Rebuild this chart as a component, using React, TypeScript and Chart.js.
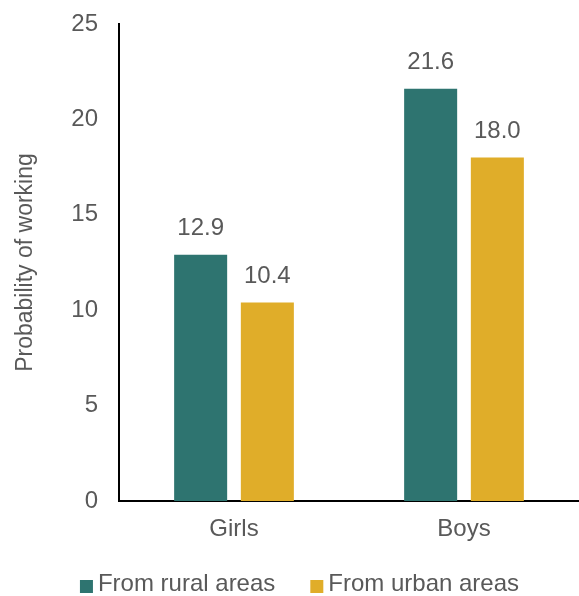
import React, { useEffect, useRef } from "react";
import { Chart, registerables } from "chart.js";

Chart.register(...registerables);

const categories = ["Girls", "Boys"];
const ruralValues = [12.9, 21.6];
const urbanValues = [10.4, 18.0];
const seriesNames = ["From rural areas", "From urban areas"];
const seriesColors = ["#2E7470", "#E0AD29"];
const yTitle = "Probability of working";

const TEXT = "#595959";
const FONT = "'Liberation Sans', Arial, sans-serif";

const valueLabels = {
  id: "valueLabels",
  afterDatasetsDraw(chart: any) {
    const ctx = chart.ctx;
    ctx.save();
    ctx.fillStyle = TEXT;
    ctx.font = `24px ${FONT}`;
    ctx.textAlign = "center";
    ctx.textBaseline = "alphabetic";
    chart.data.datasets.forEach((ds: any, di: number) => {
      const meta = chart.getDatasetMeta(di);
      meta.data.forEach((el: any, i: number) => {
        ctx.fillText(Number(ds.data[i]).toFixed(1), el.x, el.y - 20);
      });
    });
    ctx.restore();
  },
};

// Bottom legend drawn from the datasets (box close to text, wide item gap)
const bottomLegend = {
  id: "bottomLegend",
  afterDraw(chart: any) {
    const ctx = chart.ctx;
    const box = 13;
    const boxGap = 5;
    const itemGap = 35;
    ctx.save();
    ctx.font = `24px ${FONT}`;
    const items = chart.data.datasets.map((ds: any) => ({
      text: ds.label,
      color: ds.backgroundColor,
      w: ctx.measureText(ds.label).width,
    }));
    const total =
      items.reduce((s: number, it: any) => s + box + boxGap + it.w, 0) +
      itemGap * (items.length - 1);
    let x = chart.width / 2 + 10 - total / 2;
    const yMid = 584;
    ctx.textBaseline = "middle";
    ctx.textAlign = "left";
    items.forEach((it: any) => {
      ctx.fillStyle = it.color;
      ctx.fillRect(x, yMid - 4, box, box);
      ctx.fillStyle = TEXT;
      ctx.fillText(it.text, x + box + boxGap, yMid);
      x += box + boxGap + it.w + itemGap;
    });
    ctx.restore();
  },
};

export default function App() {
  const ref = useRef<HTMLCanvasElement>(null);
  useEffect(() => {
    if (!ref.current) return;
    const chart = new Chart(ref.current, {
      type: "bar",
      data: {
        labels: categories,
        datasets: [
          {
            label: seriesNames[0],
            data: ruralValues,
            backgroundColor: seriesColors[0],
            borderWidth: 0,
            categoryPercentage: 0.58,
            barPercentage: 0.795,
          },
          {
            label: seriesNames[1],
            data: urbanValues,
            backgroundColor: seriesColors[1],
            borderWidth: 0,
            categoryPercentage: 0.58,
            barPercentage: 0.795,
          },
        ],
      },
      options: {
        responsive: false,
        animation: false,
        layout: { padding: { top: 24, left: 0, right: 0, bottom: 43 } },
        plugins: {
          tooltip: { enabled: false },
          legend: { display: false },
        },
        scales: {
          x: {
            grid: { display: false, drawTicks: false },
            border: { display: true, color: "#000000", width: 2 },
            ticks: {
              color: TEXT,
              font: { family: FONT, size: 24 },
              padding: 14,
            },
            afterFit(scale: any) {
              scale.height = 52;
              scale.paddingLeft = 0;
              scale.paddingRight = 0;
            },
          },
          y: {
            min: 0,
            max: 25,
            grid: { display: false, drawTicks: false },
            border: { display: true, color: "#000000", width: 2 },
            ticks: {
              stepSize: 5,
              color: TEXT,
              font: { family: FONT, size: 24 },
              padding: 21,
            },
            title: {
              display: true,
              text: yTitle,
              color: TEXT,
              font: { family: FONT, size: 23 },
              padding: { top: 12, bottom: 0 },
            },
            afterFit(scale: any) {
              scale.width = 119;
              scale.paddingTop = 0;
              scale.paddingBottom = 0;
            },
          },
        },
      },
      plugins: [valueLabels, bottomLegend],
    });
    return () => chart.destroy();
  }, []);
  return (
    <div style={{ position: "absolute", left: 0, top: 0, width: 579, height: 596 }}>
      <canvas ref={ref} width={579} height={596} />
    </div>
  );
}
